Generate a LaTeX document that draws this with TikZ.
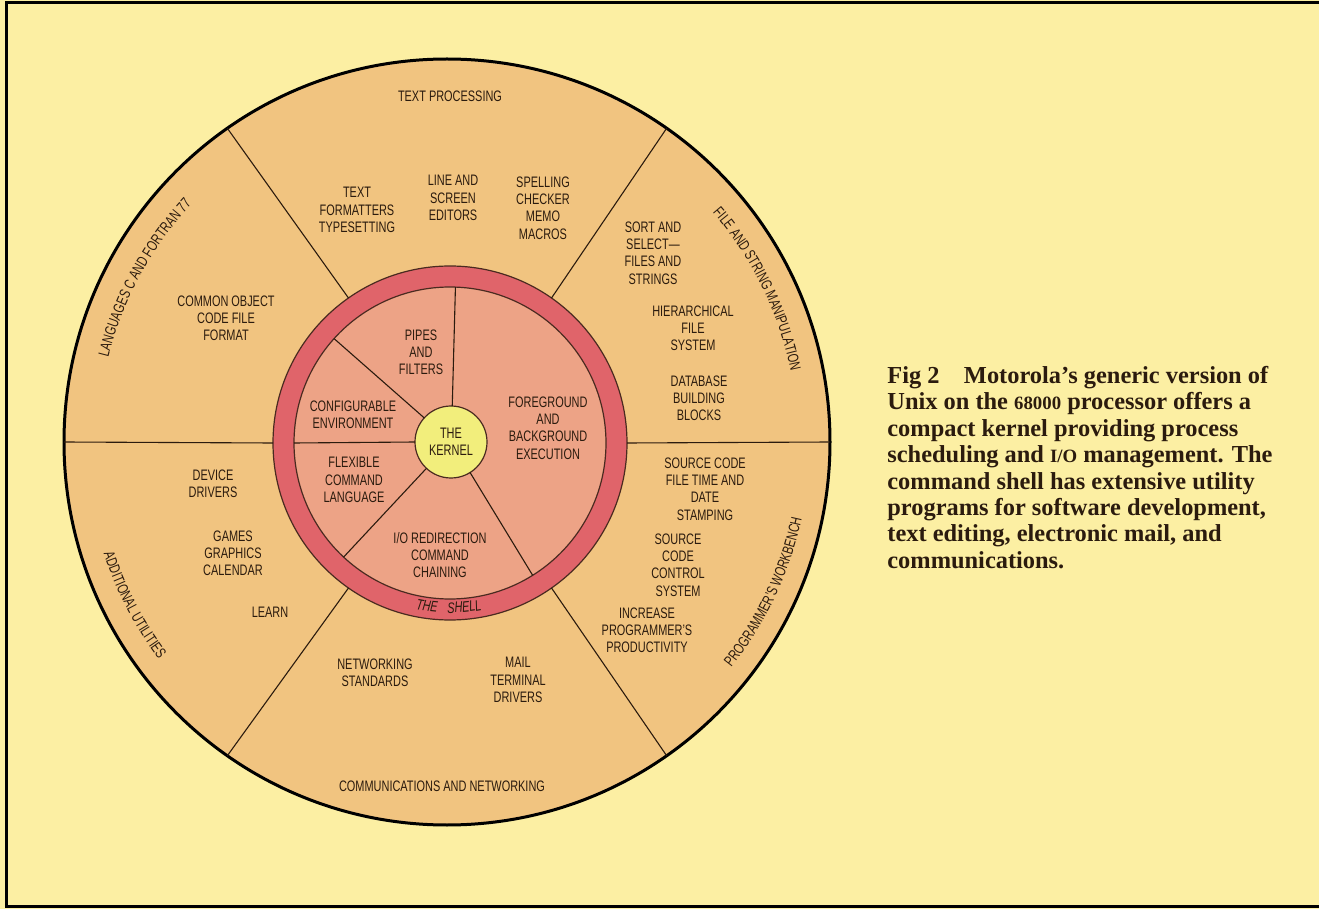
\documentclass[tikz,border=0pt]{standalone}
\usepackage{fontspec}
\usepackage{xcolor}
\usepackage{tikz}
\usetikzlibrary{decorations.text}
\newfontfamily\lbl[FakeStretch=0.72]{Liberation Sans}
\newfontfamily\capserif{Liberation Serif}
\newcommand{\lblfont}{\lbl\fontsize{7.6}{8.6}\selectfont}
\newcommand{\capfont}{\capserif\bfseries\fontsize{12.2}{13.2}\selectfont}
\newcommand{\smallfig}[1]{{\fontsize{9.4}{9.4}\selectfont #1}}
\definecolor{paper}{HTML}{FCEFA3}
\definecolor{wheeltan}{HTML}{F1C480}
\definecolor{ringred}{HTML}{E0646A}
\definecolor{shellpink}{HTML}{EDA386}
\definecolor{kernelyellow}{HTML}{F2EE7C}
\definecolor{rimdark}{HTML}{4A2A20}
\definecolor{ink}{HTML}{2B1B0E}
\tikzstyle{lbl} = [align=center, font=\lblfont, text=ink, inner sep=0pt]
\tikzstyle{disc} = [circle, inner sep=0pt, outer sep=0pt]
\tikzstyle{spoke} = [draw=ink, line width=0.55pt]
\tikzset{arclabel/.style={decorate, decoration={text along path, text align=center,
  text color=ink, text={|\lblfont|#1}}}}
\tikzset{shelllabel/.style={decorate, decoration={text along path, text align=center,
  text color=ink, text={|\lblfont\itshape|#1}}}}
\begin{document}
\begin{tikzpicture}[x=0.5pt, y=0.5pt]
  \useasboundingbox (0,0) rectangle (1319,-909);
  % Page and frame
  \fill[paper] (0,0) rectangle (1319,-909);
  \draw[line width=1.5pt] (1319,-3) -- (6,-3) -- (6,-906) -- (1319,-906);

  % Wheel, shell ring and kernel
  \coordinate (C) at (447,-442);
  \coordinate (S) at (450,-443);
  \node (wheel) [disc, minimum size=383pt, fill=wheeltan, draw=black, line width=1.5pt] at (C) {};
  \node (ring) [disc, minimum size=177pt, fill=ringred, draw=rimdark, line width=0.6pt] at (S) {};
  \node (shell) [disc, minimum size=156pt, fill=shellpink, draw=rimdark, line width=0.6pt] at (S) {};
  \node (kernel) [disc, lbl, minimum size=36pt, fill=kernelyellow, draw=rimdark, line width=0.6pt]
    at (451,-442) {THE\\KERNEL};

  \foreach \a in {0,55,125,180,235,305}
    \draw[spoke] (ring.\a) -- (wheel.\a);
  \foreach \a in {88,138,180,227,302}
    \draw[spoke] (kernel.\a) -- (shell.\a);

  % Sector titles
  \node (txtproc) [lbl] at (450,-96) {TEXT PROCESSING};
  \node (comms) [lbl] at (442,-786) {COMMUNICATIONS AND NETWORKING};
  \path[arclabel={LANGUAGES C AND FORTRAN 77}] (C) ++(181.5:349) arc[start angle=181.5, end angle=121.5, radius=349];
  \path[arclabel={FILE AND STRING MANIPULATION}] (C) ++(56.2:351) arc[start angle=56.2, end angle=-3.8, radius=351];
  \path[arclabel={ADDITIONAL UTILITIES}] (C) ++(177.5:361) arc[start angle=177.5, end angle=237.5, radius=361];
  \path[arclabel={PROGRAMMER’S WORKBENCH}] (C) ++(304.7:363) arc[start angle=304.7, end angle=364.7, radius=363];
  \path[shelllabel={THE}] (S) ++(242:170) arc[start angle=242, end angle=282, radius=170];
  \path[shelllabel={SHELL}] (S) ++(255:170) arc[start angle=255, end angle=295, radius=170];

  % Utilities round the shell
  \node (formatters) [lbl] at (357,-210) {TEXT\\FORMATTERS\\TYPESETTING};
  \node (editors) [lbl] at (453,-198) {LINE AND\\SCREEN\\EDITORS};
  \node (spelling) [lbl] at (543,-208) {SPELLING\\CHECKER\\MEMO\\MACROS};
  \node (sortsel) [lbl] at (653,-253) {SORT AND\\SELECT—\\FILES AND\\STRINGS};
  \node (hierfs) [lbl] at (693,-328) {HIERARCHICAL\\FILE\\SYSTEM};
  \node (dbase) [lbl] at (699,-398) {DATABASE\\BUILDING\\BLOCKS};
  \node (stamping) [lbl] at (705,-489) {SOURCE CODE\\FILE TIME AND\\DATE\\STAMPING};
  \node (sccs) [lbl] at (678,-565) {SOURCE\\CODE\\CONTROL\\SYSTEM};
  \node (prodty) [lbl] at (647,-630) {INCREASE\\PROGRAMMER’S\\PRODUCTIVITY};
  \node (mail) [lbl] at (518,-680) {MAIL\\TERMINAL\\DRIVERS};
  \node (netstd) [lbl] at (375,-673) {NETWORKING\\STANDARDS};
  \node (learn) [lbl] at (270,-612) {LEARN};
  \node (games) [lbl] at (233,-553) {GAMES\\GRAPHICS\\CALENDAR};
  \node (devdrv) [lbl] at (213,-484) {DEVICE\\DRIVERS};
  \node (coff) [lbl] at (226,-318) {COMMON OBJECT\\CODE FILE\\FORMAT};

  % Shell features
  \node (pipes) [lbl] at (421,-352) {PIPES\\AND\\FILTERS};
  \node (config) [lbl] at (353,-415) {CONFIGURABLE\\ENVIRONMENT};
  \node (flexcmd) [lbl] at (354,-480) {FLEXIBLE\\COMMAND\\LANGUAGE};
  \node (ioredir) [lbl] at (440,-555) {I/O REDIRECTION\\COMMAND\\CHAINING};
  \node (fgbg) [lbl] at (548,-428) {FOREGROUND\\AND\\BACKGROUND\\EXECUTION};

  % Caption
  \node (caption) [anchor=north west, align=left, font=\capfont, text=ink, inner sep=0pt] at (887,-366)
    {Fig 2\quad Motorola’s generic version of\\
     Unix on the \smallfig{68000} processor offers a\\
     compact kernel providing process\\
     scheduling and \smallfig{I/O} management. The\\
     command shell has extensive utility\\
     programs for software development,\\
     text editing, electronic mail, and\\
     communications.};
\end{tikzpicture}
\end{document}
